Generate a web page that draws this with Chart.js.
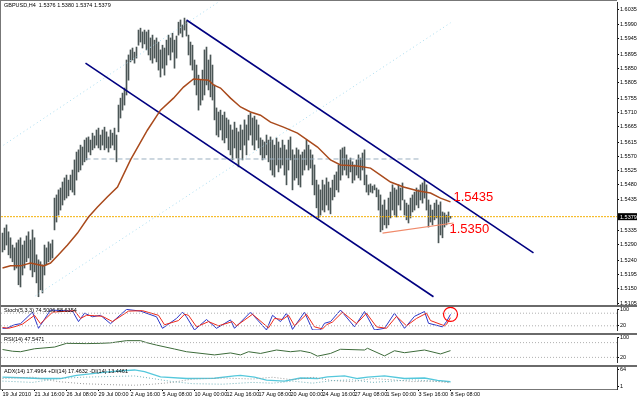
<!DOCTYPE html>
<html>
<head>
<meta charset="utf-8">
<script src="https://cdn.jsdelivr.net/npm/chart.js@4.4.1/dist/chart.umd.min.js"></script>
<style>
  body { margin: 0; background: #fff; width: 637px; height: 399px; overflow: hidden; position: relative; }
  canvas { position: absolute; left: 0; }
  .sep { position: absolute; left: 0; width: 637px; background: #6a6a6a; }
  .frame { position: absolute; left: 0; top: 0; width: 616px; height: 388px; border: 1px solid #777; border-right: none; box-sizing: content-box; pointer-events: none; }
</style>
</head>
<body>
<canvas id="main" width="637" height="305" style="top:0"></canvas>
<canvas id="stoch" width="637" height="26" style="top:307px"></canvas>
<canvas id="rsi" width="637" height="30" style="top:335px"></canvas>
<canvas id="adx" width="637" height="32" style="top:367px"></canvas>
<div class="sep" style="top:305px;height:2px"></div>
<div class="sep" style="top:333px;height:2px"></div>
<div class="sep" style="top:365px;height:2px"></div>
<div class="frame"></div>
<script>
// ---- data ----
const symbolText = 'GBPUSD,H4  1.5376 1.5380 1.5374 1.5379';
const timeLabels = ['19 Jul 2010', '21 Jul 16:00', '26 Jul 08:00', '29 Jul 00:00', '2 Aug 16:00',
  '5 Aug 08:00', '10 Aug 00:00', '12 Aug 16:00', '17 Aug 08:00', '20 Aug 00:00', '24 Aug 16:00',
  '27 Aug 08:00', '1 Sep 00:00', '3 Sep 16:00', '8 Sep 08:00'];
const timeLabelBars = [0, 16, 32, 48, 64, 80, 96, 112, 128, 144, 160, 176, 192, 208, 224];
const priceTicks = [1.6035, 1.5990, 1.5945, 1.5895, 1.5850, 1.5805, 1.5755, 1.5710, 1.5665, 1.5615,
  1.5570, 1.5525, 1.5480, 1.5435, 1.5335, 1.5290, 1.5240, 1.5195, 1.5150, 1.5105];
const lastPrice = 1.5379;

// H4 bars, high / low
const highs = [
  1.5327, 1.5343, 1.5353, 1.5331, 1.5312, 1.5289, 1.5280, 1.5296, 1.5305, 1.5312,
  1.5289, 1.5302, 1.5318, 1.5331, 1.5305, 1.5337, 1.5312, 1.5258, 1.5242, 1.5236,
  1.5226, 1.5289, 1.5280, 1.5299, 1.5293, 1.5305, 1.5438, 1.5448, 1.5464, 1.5470,
  1.5489, 1.5502, 1.5511, 1.5495, 1.5511, 1.5527, 1.5559, 1.5584, 1.5591, 1.5606,
  1.5600, 1.5622, 1.5629, 1.5632, 1.5622, 1.5644, 1.5635, 1.5654, 1.5660, 1.5638,
  1.5654, 1.5663, 1.5648, 1.5632, 1.5654, 1.5644, 1.5660, 1.5638, 1.5733, 1.5755,
  1.5771, 1.5787, 1.5876, 1.5892, 1.5908, 1.5914, 1.5901, 1.5917, 1.5971, 1.5977,
  1.5965, 1.5971, 1.5965, 1.5971, 1.5946, 1.5955, 1.5939, 1.5946, 1.5933, 1.5908,
  1.5923, 1.5914, 1.5939, 1.5955, 1.5946, 1.5961, 1.5939, 1.5952, 1.5996, 1.6003,
  1.5987, 1.6009, 1.5999, 1.5955, 1.5933, 1.5923, 1.5876, 1.5860, 1.5828, 1.5812,
  1.5844, 1.5908, 1.5917, 1.5876, 1.5892, 1.5860, 1.5797, 1.5724, 1.5711, 1.5717,
  1.5701, 1.5711, 1.5692, 1.5686, 1.5670, 1.5654, 1.5679, 1.5660, 1.5648, 1.5670,
  1.5654, 1.5686, 1.5670, 1.5701, 1.5708, 1.5692, 1.5698, 1.5686, 1.5670, 1.5629,
  1.5622, 1.5616, 1.5638, 1.5622, 1.5632, 1.5622, 1.5606, 1.5629, 1.5616, 1.5597,
  1.5622, 1.5606, 1.5591, 1.5622, 1.5632, 1.5591, 1.5575, 1.5597, 1.5591, 1.5575,
  1.5584, 1.5591, 1.5622, 1.5606, 1.5591, 1.5575, 1.5543, 1.5495, 1.5480, 1.5464,
  1.5495, 1.5480, 1.5502, 1.5489, 1.5470, 1.5495, 1.5511, 1.5521, 1.5543, 1.5591,
  1.5597, 1.5600, 1.5575, 1.5559, 1.5565, 1.5553, 1.5543, 1.5559, 1.5575, 1.5565,
  1.5581, 1.5591, 1.5511, 1.5480, 1.5483, 1.5476, 1.5480, 1.5470, 1.5464, 1.5448,
  1.5416, 1.5432, 1.5400, 1.5438, 1.5457, 1.5480, 1.5470, 1.5464, 1.5480, 1.5470,
  1.5486, 1.5432, 1.5422, 1.5416, 1.5438, 1.5448, 1.5457, 1.5470, 1.5464, 1.5480,
  1.5486, 1.5495, 1.5480, 1.5432, 1.5416, 1.5400, 1.5422, 1.5432, 1.5416, 1.5426,
  1.5394, 1.5391, 1.5384, 1.5394, 1.5380];
const lows = [
  1.5267, 1.5274, 1.5289, 1.5258, 1.5248, 1.5236, 1.5210, 1.5216, 1.5163, 1.5156,
  1.5194, 1.5216, 1.5236, 1.5248, 1.5210, 1.5188, 1.5204, 1.5169, 1.5125, 1.5147,
  1.5137, 1.5194, 1.5226, 1.5236, 1.5242, 1.5248, 1.5337, 1.5362, 1.5384, 1.5400,
  1.5416, 1.5432, 1.5438, 1.5445, 1.5464, 1.5457, 1.5448, 1.5495, 1.5521, 1.5527,
  1.5543, 1.5553, 1.5559, 1.5584, 1.5575, 1.5591, 1.5597, 1.5606, 1.5597, 1.5591,
  1.5606, 1.5591, 1.5597, 1.5584, 1.5597, 1.5606, 1.5591, 1.5553, 1.5648, 1.5692,
  1.5717, 1.5733, 1.5765, 1.5812, 1.5870, 1.5876, 1.5866, 1.5882, 1.5923, 1.5933,
  1.5914, 1.5927, 1.5908, 1.5892, 1.5876, 1.5866, 1.5882, 1.5870, 1.5844, 1.5822,
  1.5850, 1.5828, 1.5860, 1.5892, 1.5876, 1.5901, 1.5850, 1.5882, 1.5955, 1.5961,
  1.5949, 1.5971, 1.5952, 1.5892, 1.5860, 1.5844, 1.5797, 1.5765, 1.5717, 1.5733,
  1.5749, 1.5765, 1.5797, 1.5781, 1.5759, 1.5749, 1.5686, 1.5638, 1.5632, 1.5654,
  1.5622, 1.5613, 1.5629, 1.5591, 1.5575, 1.5559, 1.5597, 1.5565, 1.5537, 1.5591,
  1.5559, 1.5606, 1.5575, 1.5622, 1.5638, 1.5606, 1.5591, 1.5622, 1.5597, 1.5575,
  1.5559, 1.5565, 1.5575, 1.5553, 1.5527, 1.5511, 1.5505, 1.5543, 1.5521, 1.5533,
  1.5543, 1.5511, 1.5480, 1.5527, 1.5559, 1.5464, 1.5495, 1.5502, 1.5480, 1.5473,
  1.5511, 1.5527, 1.5543, 1.5527, 1.5533, 1.5480, 1.5448, 1.5407, 1.5375, 1.5384,
  1.5400, 1.5394, 1.5416, 1.5400, 1.5388, 1.5432, 1.5442, 1.5464, 1.5457, 1.5495,
  1.5511, 1.5527, 1.5511, 1.5502, 1.5521, 1.5486, 1.5495, 1.5511, 1.5502, 1.5495,
  1.5527, 1.5480, 1.5457, 1.5448, 1.5457, 1.5454, 1.5464, 1.5442, 1.5400, 1.5331,
  1.5337, 1.5353, 1.5343, 1.5353, 1.5375, 1.5400, 1.5384, 1.5378, 1.5416, 1.5400,
  1.5432, 1.5384, 1.5369, 1.5359, 1.5375, 1.5394, 1.5400, 1.5416, 1.5407, 1.5432,
  1.5422, 1.5438, 1.5400, 1.5346, 1.5362, 1.5353, 1.5369, 1.5375, 1.5296, 1.5321,
  1.5312, 1.5346, 1.5353, 1.5362, 1.5374];

// moving average (brown line)
const maBars = [0, 4, 9, 14, 20.5, 24, 28, 32.5, 37.5, 43, 47.5, 52.5, 57.5, 64, 72.5, 79, 85.5,
  90.5, 95.5, 103, 105.5, 109, 114, 119, 124, 129, 134, 140.5, 147.5, 157.5, 164, 169, 177.5,
  184, 189, 194, 200.5, 207.5, 214, 219, 224];
const maValues = [1.5216, 1.5223, 1.5223, 1.5232, 1.5223, 1.5232, 1.5258, 1.5289, 1.5327, 1.5378,
  1.5410, 1.5442, 1.5473, 1.5559, 1.5654, 1.5717, 1.5755, 1.5790, 1.5816, 1.5812, 1.5797,
  1.5787, 1.5755, 1.5727, 1.5711, 1.5701, 1.5679, 1.5663, 1.5644, 1.5600, 1.5559, 1.5543,
  1.5540, 1.5533, 1.5511, 1.5489, 1.5473, 1.5461, 1.5454, 1.5438, 1.5426];

// drawn objects: [startBar, startPrice, endBar, endPrice]
const upperChannel = [92, 1.6003, 265.5, 1.5264];
const lowerChannel = [41.5, 1.5866, 215.5, 1.5125];
const dottedLineA = [0.5, 1.5606, 108, 1.6060];
const dottedLineB = [16.5, 1.5128, 224, 1.5994];
const dashedLevel = [41.5, 1.5562, 209, 1.5562];
const triangleLow = [190, 1.5327, 225.5, 1.5359];
const noteLabels = ['1.5435', '1.5350'];
const notePrices = [1.5435, 1.5350];

// Stochastic(5,3,3)
const stochText = 'Stoch(5,3,3) 74.5006 58.6354';
const stochKBars = [0, 2, 6, 9, 15, 18, 24, 35, 38, 41, 45, 49, 54, 62, 69, 77, 80, 87, 90, 92, 96,
  102, 107, 114, 116, 124, 132, 135, 139, 142, 145, 151, 155, 159, 161, 164, 169, 176, 181, 186,
  191, 196, 201, 206, 211, 213, 220, 222, 224];
const stochK = [8, 8, 25, 30, 85, 8, 95, 90, 40, 80, 63, 70, 30, 98, 90, 63, 8, 55, 85, 63, 0,
  50, 8, 48, 8, 85, 0, 70, 40, 80, 3, 85, 0, 0, 32, 40, 95, 15, 88, 0,
  8, 80, 8, 65, 88, 32, 15, 40, 74.5];
const stochDBars = [0, 3, 7, 10, 16, 19, 25, 36, 39, 42, 46, 50, 55, 63, 70, 78, 81, 88, 91, 93, 97,
  103, 108, 115, 117, 125, 133, 136, 140, 143, 146, 152, 156, 160, 162, 165, 170, 177, 182, 187,
  192, 197, 202, 207, 212, 214, 221, 222, 224];
const stochD = [12, 8, 18, 28, 70, 30, 85, 92, 55, 70, 68, 65, 40, 90, 92, 70, 25, 45, 75, 70, 15,
  40, 20, 40, 20, 75, 10, 55, 50, 70, 20, 75, 15, 5, 25, 38, 85, 30, 80, 15,
  8, 65, 20, 55, 80, 45, 20, 27, 58.6];
const stochTicks = [100, 80, 20, 0];
const stochLevels = [80, 20];

// RSI(14)
const rsiText = 'RSI(14) 47.5471';
const rsiBars = [0, 5, 9, 16, 26, 32, 42, 49, 54, 62, 69, 72, 77, 86, 92, 106, 114, 119, 123, 129,
  137, 144, 149, 154, 157.5, 164, 169, 181, 182.5, 191, 196, 201, 211, 219, 224];
const rsiValues = [52, 45, 43, 55, 62, 77, 76, 77, 79, 88, 88, 80, 70, 54, 43, 30, 38, 30, 43, 36,
  50, 43, 47, 39, 25, 36, 53, 50, 57, 26, 47, 39, 50, 34, 47.5];
const rsiTicks = [100, 80, 20, 0];
const rsiLevels = [80, 20];

// ADX(14)
const adxText = 'ADX(14) 17.4964 +DI(14) 17.4632 -DI(14) 13.4461';
const adxBars = [0, 9, 19, 29, 37, 46, 54, 66, 71, 79, 92, 106, 116, 119, 126, 132, 141, 149,
  157.5, 162.5, 171, 177.5, 182.5, 191, 201, 211, 217.5, 224];
const adxValues = [35, 33, 30, 30, 42, 50, 57, 63, 57, 36, 30, 31, 40, 42, 35, 24, 20, 32,
  30, 36, 40, 30, 35, 40, 30, 32, 23, 17.5];
const pdiBars = [0, 15, 28, 40, 55, 66, 75, 85, 95, 110, 125, 135, 145, 155, 165, 175, 185, 195,
  205, 215, 224];
const pdiValues = [20, 15, 30, 35, 38, 40, 30, 18, 10, 8, 15, 12, 20, 12, 22, 25, 15, 20,
  25, 20, 17.5];
const mdiBars = [0, 15, 28, 40, 55, 66, 75, 85, 95, 110, 125, 135, 145, 155, 165, 175, 185, 195,
  205, 215, 224];
const mdiValues = [30, 35, 18, 10, 6, 4, 8, 15, 28, 32, 28, 35, 25, 35, 22, 18, 30, 25,
  18, 20, 13.4];
const adxTicks = [64, 1];

// ---- helpers ----
const FONT = 'Liberation Sans, Arial, sans-serif';
const X_MIN = -0.75, X_MAX = 307.25;

function pts(bars, vals) {
  return bars.map((b, i) => ({ x: b, y: vals[i] }));
}
function seg(s) {
  return [{ x: s[0], y: s[1] }, { x: s[2], y: s[3] }];
}
function line(data, color, width, dash) {
  return { type: 'line', data: data, borderColor: color, borderWidth: width, borderDash: dash || [],
    pointRadius: 0, fill: false, tension: 0, order: 1 };
}
function xAxis(show) {
  return {
    type: 'linear', min: X_MIN, max: X_MAX, display: show, offset: false,
    afterBuildTicks: s => { s.ticks = timeLabelBars.map(v => ({ value: v })); },
    afterFit: s => { s.height = show ? 10 : 0; s.paddingLeft = 0; s.paddingRight = 0; },
    ticks: { autoSkip: false, maxRotation: 0, align: 'start', padding: 0, color: '#000',
      font: { family: FONT, size: 5.5 },
      callback: (v) => timeLabels[timeLabelBars.indexOf(v)] },
    grid: { drawOnChartArea: false, tickLength: 2, color: '#000' },
    border: { color: '#555' }
  };
}
function yAxis(min, max, ticks, digits) {
  return {
    position: 'right', min: min, max: max,
    afterFit: s => { s.width = 20; s.paddingTop = 0; s.paddingBottom = 0; },
    afterBuildTicks: s => { s.ticks = ticks.map(v => ({ value: v })); },
    ticks: { color: '#000', padding: 1, font: { family: FONT, size: 5.5 },
      callback: v => v.toFixed(digits) },
    grid: { drawOnChartArea: false, tickLength: 2, color: '#000' },
    border: { color: '#333' }
  };
}
function baseOptions(xShow, y, pad) {
  return {
    responsive: false, animation: false, events: [],
    layout: { padding: pad, autoPadding: false },
    plugins: { legend: { display: false }, tooltip: { enabled: false } },
    scales: { x: xAxis(xShow), y: y }
  };
}
function titlePlugin(text, top) {
  return {
    id: 'title' + top,
    afterDraw(chart) {
      const ctx = chart.ctx;
      ctx.save();
      ctx.font = '5.5px ' + FONT;
      ctx.fillStyle = '#000';
      ctx.textBaseline = 'top';
      ctx.fillText(text, 4, top);
      ctx.restore();
    }
  };
}

// ---- main price chart ----
const mainNotes = {
  id: 'mainNotes',
  afterDraw(chart) {
    const ctx = chart.ctx, x = chart.scales.x, y = chart.scales.y;
    ctx.save();
    ctx.fillStyle = '#ff0000';
    ctx.font = '13px ' + FONT;
    ctx.textBaseline = 'middle';
    ctx.fillText(noteLabels[0], x.getPixelForValue(225.5), y.getPixelForValue(notePrices[0]) - 2);
    ctx.fillText(noteLabels[1], x.getPixelForValue(223.5), y.getPixelForValue(notePrices[1]) + 4);
    // current price box on the axis
    const py = y.getPixelForValue(lastPrice);
    ctx.fillStyle = '#000';
    ctx.fillRect(x.right + 1, py - 3.5, 19, 7);
    ctx.fillStyle = '#fff';
    ctx.font = '5.5px ' + FONT;
    ctx.fillText(lastPrice.toFixed(4), x.right + 3, py + 0.5);
    ctx.restore();
  }
};

new Chart(document.getElementById('main'), {
  type: 'bar',
  data: {
    datasets: [
      { type: 'bar', data: highs.map((h, i) => ({ x: i, y: [lows[i], h] })),
        backgroundColor: '#4b5656', barThickness: 1, borderWidth: 0, order: 5 },
      line(pts(maBars, maValues), '#a94a1c', 1.5),
      line(seg(upperChannel), '#000080', 1.6),
      line(seg(lowerChannel), '#000080', 1.6),
      line(seg(dottedLineA), '#a8dcf0', 1, [1, 3]),
      line(seg(dottedLineB), '#a8dcf0', 1, [1, 3]),
      line(seg(dashedLevel), '#9ab0c0', 1, [5, 3]),
      line(seg([X_MIN, lastPrice, X_MAX, lastPrice]), '#f5b000', 1, [2, 1]),
      line(seg(triangleLow), '#f08a6a', 1.2)
    ]
  },
  options: baseOptions(false, yAxis(1.5102, 1.6060, priceTicks, 4), { left: 1, top: 2, bottom: 1, right: 0 }),
  plugins: [mainNotes, titlePlugin(symbolText, 3)]
});

// ---- stochastic ----
const stochCircle = {
  id: 'stochCircle',
  afterDraw(chart) {
    const ctx = chart.ctx, x = chart.scales.x, y = chart.scales.y;
    ctx.save();
    ctx.strokeStyle = '#ff0000';
    ctx.lineWidth = 1.2;
    ctx.beginPath();
    ctx.arc(x.getPixelForValue(224), y.getPixelForValue(stochK[stochK.length - 1]), 7, 0, Math.PI * 2);
    ctx.stroke();
    ctx.restore();
  }
};
new Chart(document.getElementById('stoch'), {
  type: 'line',
  data: {
    datasets: [
      line(seg([X_MIN, stochLevels[0], X_MAX, stochLevels[0]]), '#b0b0b0', 1, [1, 2]),
      line(seg([X_MIN, stochLevels[1], X_MAX, stochLevels[1]]), '#b0b0b0', 1, [1, 2]),
      line(pts(stochDBars, stochD), '#ee2a1a', 1),
      line(pts(stochKBars, stochK), '#2a36c8', 1)
    ]
  },
  options: baseOptions(false, yAxis(0, 100, stochTicks, 0), { left: 1, top: 2, bottom: 3, right: 0 }),
  plugins: [stochCircle, titlePlugin(stochText, 1)]
});

// ---- RSI ----
new Chart(document.getElementById('rsi'), {
  type: 'line',
  data: {
    datasets: [
      line(seg([X_MIN, rsiLevels[0], X_MAX, rsiLevels[0]]), '#b0b0b0', 1, [1, 2]),
      line(seg([X_MIN, rsiLevels[1], X_MAX, rsiLevels[1]]), '#b0b0b0', 1, [1, 2]),
      line(pts(rsiBars, rsiValues), '#3d6b3a', 1)
    ]
  },
  options: baseOptions(false, yAxis(0, 100, rsiTicks, 0), { left: 1, top: 2.7, bottom: 2.7, right: 0 }),
  plugins: [titlePlugin(rsiText, 2)]
});

// ---- ADX ----
new Chart(document.getElementById('adx'), {
  type: 'line',
  data: {
    datasets: [
      line(pts(pdiBars, pdiValues), '#6fb0b8', 1, [1, 2]),
      line(pts(mdiBars, mdiValues), '#9a9a9a', 1, [1, 2]),
      line(pts(adxBars, adxValues), '#55c8dc', 1.3)
    ]
  },
  options: baseOptions(true, yAxis(-10.5, 74.5, adxTicks, 0), { left: 1, top: 0, bottom: 0, right: 0 }),
  plugins: [titlePlugin(adxText, 2)]
});
</script>
</body>
</html>
